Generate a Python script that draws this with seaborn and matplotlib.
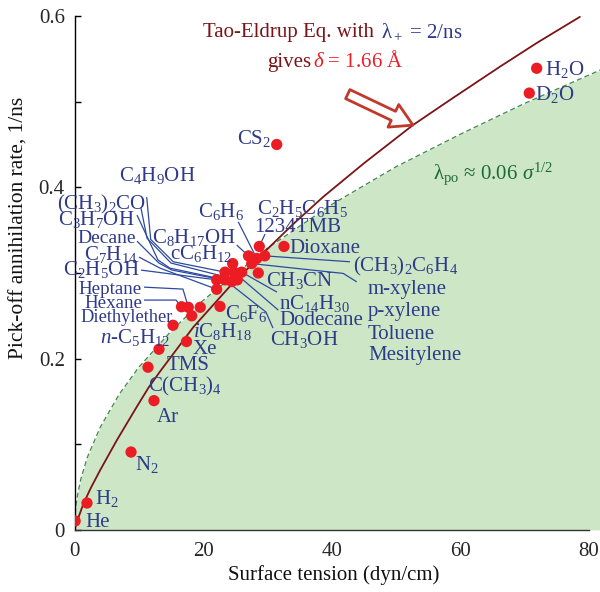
import numpy as np
import pandas as pd
import matplotlib
matplotlib.use("Agg")
import matplotlib.pyplot as plt
import seaborn as sns
from matplotlib.patches import FancyArrowPatch

# ---------------- data ----------------
compounds = ["He", "H2", "N2", "Ar", "C(CH3)4", "TMS", "Xe", "n-C5H12", "iC8H18",
             "Diethylether", "Hexane", "Heptane", "C6F6",
             "C7H14", "C2H5OH", "C4H9OH", "CH3OH", "Decane", "cC6H12", "Dodecane",
             "(CH3)2CO", "nC14H30", "C8H17OH", "m-xylene", "C6H6", "1234TMB",
             "(CH3)2C6H4", "CH3CN", "Dioxane", "CS2", "H2O", "D2O"]
tension = [0.1, 1.94, 8.79, 12.36, 11.43, 13.14, 17.42, 15.32, 18.23,
           16.64, 17.70, 19.56, 22.63,
           22.11, 22.11, 23.41, 23.41, 24.45, 24.60, 24.81,
           25.32, 26.00, 27.06, 27.56, 28.34, 28.74,
           29.60, 28.58, 32.58, 31.45, 71.88, 70.73]
rate = [0.0105, 0.0315, 0.091, 0.151, 0.190, 0.211, 0.220, 0.239, 0.250,
        0.2606, 0.260, 0.260, 0.261,
        0.281, 0.292, 0.301, 0.292, 0.290, 0.311, 0.301,
        0.292, 0.301, 0.320, 0.311, 0.317, 0.331,
        0.320, 0.300, 0.331, 0.450, 0.539, 0.510]

# Tao-Eldrup curve, points
te_x = [0.0, 0.3, 1.4, 2.6, 4.0, 6.6, 9.7, 11.5, 13.3, 18.5, 24.0, 29.6,
        34.0, 38.7, 45.0, 52.7, 58.4, 66.2, 72.0, 78.6]
te_y = [0.0, 0.008, 0.031, 0.050, 0.070, 0.105, 0.144, 0.166, 0.185, 0.237,
        0.283, 0.325, 0.357, 0.389, 0.428, 0.473, 0.502, 0.541, 0.569, 0.599]

# boundary of the shaded region (lambda_po ~ 0.06 sigma^1/2)
po_x = [0.0, 0.05, 0.2, 0.5, 1.0, 2.0, 4.0, 7.0, 10.0, 15.0, 20.0, 30.0,
        40.0, 50.0, 60.0, 70.0, 81.8]
po_y = [0.0, 0.013, 0.027, 0.042, 0.060, 0.085, 0.120, 0.159, 0.190, 0.232,
        0.268, 0.329, 0.380, 0.424, 0.462, 0.498, 0.537]

x_ticks = [0, 20, 40, 60, 80]
y_ticks = [0, 0.2, 0.4, 0.6]
y_ticklabels = ["0", "0.2", "0.4", "0.6"]
y_minor = [0.1, 0.3, 0.5]

# ---------------- style ----------------
sns.set_theme(style="white")
plt.rcParams["font.family"] = ["Liberation Serif", "DejaVu Serif"]
plt.rcParams["mathtext.fontset"] = "custom"
plt.rcParams["mathtext.rm"] = "Liberation Serif"
plt.rcParams["mathtext.it"] = "Liberation Serif:italic"
plt.rcParams["mathtext.bf"] = "Liberation Serif:bold"
plt.rcParams["mathtext.default"] = "regular"

NAVY = "#2f3a88"
LEADER = "#2d4aa0"
DOT = "#ec1c24"
CURVE = "#7a1416"
FILL = "#cde6c6"
GREEN_LINE = "#3b8a4c"
GREEN_TXT = "#1c6b33"
FS = 15

fig = plt.figure(figsize=(6.0, 5.92), dpi=100)
ax = fig.add_axes([74.5 / 600, 62 / 592, 525.5 / 600, 514 / 592])

# shaded region + dashed boundary
ax.fill_between(po_x, 0, po_y, color=FILL, lw=0, zorder=0)
sns.lineplot(x=po_x, y=po_y, ax=ax, color=GREEN_LINE, lw=0.9, sort=False,
             estimator=None, zorder=1)
ax.lines[-1].set_dashes([4, 2.5])

# Tao-Eldrup curve
sns.lineplot(x=te_x, y=te_y, ax=ax, color=CURVE, lw=1.3, sort=False,
             estimator=None, zorder=2)

df = pd.DataFrame({"name": compounds, "sigma": tension, "rate": rate})
pos = {n: (x, y) for n, x, y in zip(compounds, tension, rate)}

# leader lines: (target dot, layout points from label side)
leaders = [
    ("C4H9OH", [(11.23, 0.3886), (11.85, 0.3392), (15.37, 0.3131)]),
    ("(CH3)2CO", [(10.34, 0.3757), (11.28, 0.3407), (15.01, 0.3116)]),
    ("CH3OH", [(9.72, 0.3676), (12.99, 0.3151), (14.85, 0.3057)]),
    ("Decane", [(9.72, 0.3372), (13.14, 0.3116), (15.16, 0.3034)]),
    ("C7H14", [(10.03, 0.3186), (13.30, 0.3057)]),
    ("C2H5OH", [(10.34, 0.3034)]),
    ("Hexane", [(10.81, 0.2835), (16.87, 0.2812)]),
    ("Diethylether", [(10.81, 0.2684), (15.79, 0.2684)]),
    ("C8H17OH", [(25.23, 0.3326)]),
    ("C6H6", [(25.47, 0.3597)]),
    ("1234TMB", [(29.63, 0.3454)]),
    ("(CH3)2C6H4", [(42.85, 0.3131)]),
    ("m-xylene", [(43.89, 0.2897), (41.80, 0.2995)]),
    ("nC14H30", [(31.49, 0.2777)]),
    ("Dodecane", [(31.70, 0.2567)]),
    ("CH3OH", [(30.87, 0.2357), (29.78, 0.2544)]),
]
for target, pts in leaders:
    xs = [p[0] for p in pts] + [pos[target][0]]
    ys = [p[1] for p in pts] + [pos[target][1]]
    ax.plot(xs, ys, color=LEADER, lw=0.9, zorder=3, solid_capstyle="butt")

sns.scatterplot(data=df, x="sigma", y="rate", ax=ax, color=DOT, s=66,
                edgecolor="none", linewidth=0, zorder=5, legend=False)

# labels: (text, x, y_center, ha, fontsize)
labels = [
    (r"C$_4$H$_9$OH", 12.91, 0.4154, "center", FS),
    (r"(CH$_3$)$_2$CO", 11.12, 0.3827, "right", FS),
    (r"C$_3$H$_7$OH", 9.41, 0.3640, "right", FS),
    ("Decane", 9.56, 0.3434, "right", 14),
    (r"C$_7$H$_{14}$", 9.72, 0.3236, "right", FS),
    (r"C$_2$H$_5$OH", 10.19, 0.3057, "right", FS),
    ("Heptane", 10.50, 0.2839, "right", 13.7),
    ("Hexane", 10.50, 0.2672, "right", 13.7),
    ("Diethylether", 15.32, 0.2509, "right", 13.2),
    (r"$\mathit{n}$-C$_5$H$_{12}$", 14.85, 0.2264, "right", FS),
    (r"C$_8$H$_{17}$OH", 12.01, 0.3434, "left", FS),
    (r"cC$_6$H$_{12}$", 14.85, 0.3248, "left", FS),
    (r"C$_6$H$_6$", 19.21, 0.3734, "left", FS),
    (r"C$_2$H$_5$C$_6$H$_5$", 28.34, 0.3772, "left", FS),
    ("1234TMB", 27.92, 0.3559, "left", FS),
    ("Dioxane", 33.36, 0.3314, "left", FS),
    (r"(CH$_3$)$_2$C$_6$H$_4$", 43.31, 0.3092, "left", FS),
    ("m-xylene", 45.64, 0.2839, "left", FS),
    ("p-xylene", 45.64, 0.2579, "left", FS),
    ("Toluene", 45.64, 0.2314, "left", FS),
    ("Mesitylene", 45.64, 0.2065, "left", FS),
    (r"CH$_3$CN", 29.78, 0.2929, "left", FS),
    (r"nC$_{14}$H$_{30}$", 31.80, 0.2664, "left", FS),
    ("Dodecane", 31.80, 0.2474, "left", FS),
    (r"CH$_3$OH", 30.40, 0.2240, "left", FS),
    (r"C$_6$F$_6$", 23.41, 0.2547, "left", FS),
    (r"$\mathit{i}$C$_8$H$_{18}$", 18.43, 0.2334, "left", FS),
    ("Xe", 18.43, 0.2139, "left", FS),
    ("TMS", 14.34, 0.1949, "left", FS),
    (r"C(CH$_3$)$_4$", 11.43, 0.1692, "left", FS),
    ("Ar", 12.78, 0.1342, "left", FS),
    (r"N$_2$", 9.41, 0.0778, "left", FS),
    (r"H$_2$", 3.19, 0.0389, "left", FS),
    ("He", 1.63, 0.0117, "left", FS),
    (r"CS$_2$", 30.56, 0.4589, "right", FS),
    (r"H$_2$O", 73.17, 0.5387, "left", FS),
    (r"D$_2$O", 71.62, 0.5096, "left", FS),
]
for txt, x, y, ha, fs in labels:
    ax.text(x, y - 0.008, txt, ha=ha, va="baseline", fontsize=fs, color=NAVY,
            zorder=6)

# annotation text
ax.text(19.98, 0.5756, "Tao-Eldrup Eq. with", fontsize=FS, color=CURVE,
        ha="left", va="baseline")
ax.text(47.67, 0.5756, r"λ$_+$ = 2/ns", fontsize=FS, color=NAVY,
        ha="left", va="baseline")
ax.text(29.98, 0.5406, "gives", fontsize=FS, color=CURVE, ha="left",
        va="baseline")
ax.text(37.05, 0.5406, r"$\mathit{δ}$ = 1.66 Å", fontsize=FS, color=DOT,
        ha="left", va="baseline")
ax.text(55.75, 0.4104, r"λ$_{\rm po}$ ≈ 0.06 $\mathit{σ}^{1/2}$", fontsize=FS,
        color=GREEN_TXT, ha="left", va="baseline")

arrow = FancyArrowPatch((42.5, 0.5088), (52.64, 0.4726),
                        arrowstyle="simple,head_length=1.3,head_width=1.5,tail_width=0.6",
                        mutation_scale=12, facecolor="white", edgecolor="#c0392b",
                        lw=2.0, shrinkA=0, shrinkB=0, zorder=7)
ax.add_patch(arrow)

# axes
ax.set_xlim(0, 81.73)
ax.set_ylim(0, 0.6)
ax.set_xticks(x_ticks)
ax.set_xticklabels([str(v) for v in x_ticks])
ax.set_yticks(y_ticks)
ax.set_yticklabels(y_ticklabels)
ax.set_yticks(y_minor, minor=True)
ax.tick_params(axis="y", which="both", direction="in", length=4, width=1,
               color="black", labelsize=FS, pad=7, left=True)
ax.tick_params(axis="x", which="both", length=0, labelsize=FS, pad=9)
for s in ["top", "right"]:
    ax.spines[s].set_visible(False)
ax.spines["left"].set_color("black")
ax.spines["bottom"].set_color("#333333")
ax.spines["left"].set_linewidth(1.0)
ax.spines["bottom"].set_linewidth(1.0)
ax.spines["bottom"].set_bounds(0, 80)
ax.set_facecolor("white")
ax.grid(False)

ax.set_xlabel("Surface tension (dyn/cm)", fontsize=FS, color="#111111")
ax.set_ylabel("Pick-off annihilation rate, 1/ns", fontsize=15.5, color="#111111")
ax.xaxis.set_label_coords((334 - 74.5) / 525.5, -(565 - 530) / 514)
ax.yaxis.set_label_coords((29 - 74.5) / 525.5, (530 - 228) / 514)

fig.savefig("out.png", dpi=100)
